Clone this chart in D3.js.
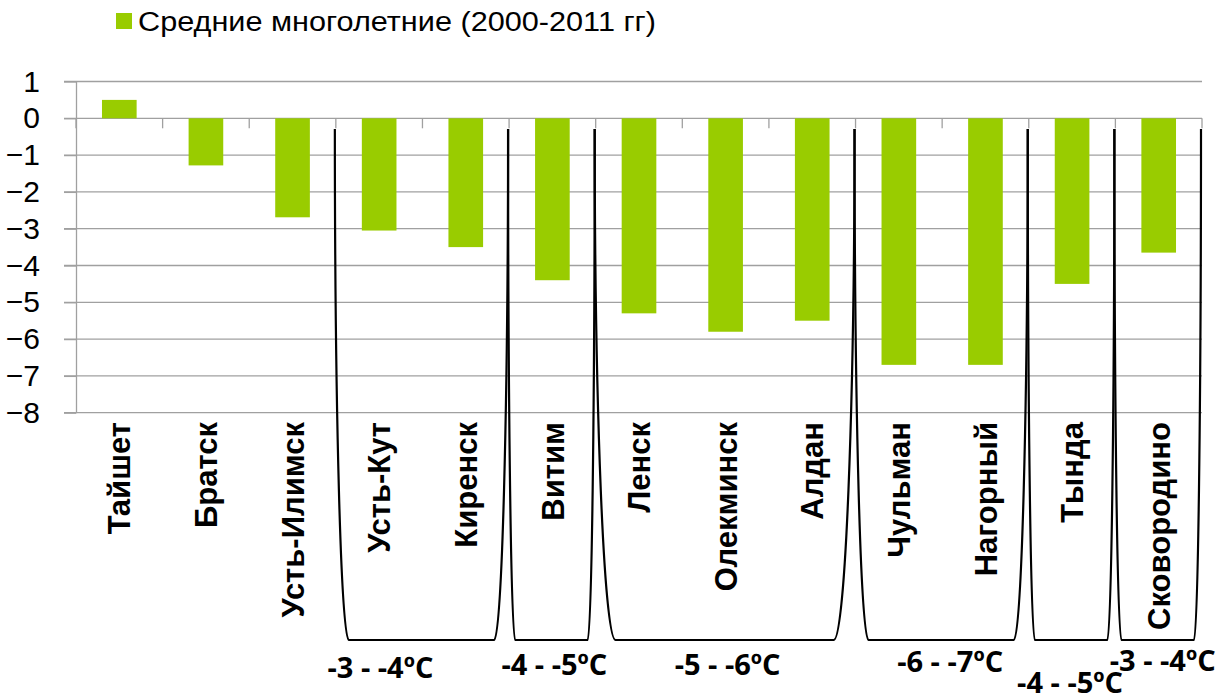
<!DOCTYPE html>
<html>
<head>
<meta charset="utf-8">
<script src="https://cdn.jsdelivr.net/npm/d3@7"></script>
<style>
  body { margin: 0; background: #fff; }
  svg { display: block; }
</style>
</head>
<body>
<div id="chart"></div>
<script>
// stations and mean long-term values (2000-2011)
var stations = ["Тайшет", "Братск", "Усть-Илимск", "Усть-Кут", "Киренск", "Витим", "Ленск",
  "Олекминск", "Алдан", "Чульман", "Нагорный", "Тында", "Сковородино"];
var values = [0.5, -1.28, -2.69, -3.05, -3.5, -4.4, -5.3, -5.8, -5.5, -6.7, -6.7, -4.5, -3.65];
var yTicks = [1, 0, -1, -2, -3, -4, -5, -6, -7, -8];
var seriesName = "Средние многолетние (2000-2011 гг)";

// temperature zones: first and last station index, label
var zoneFrom = [3, 5, 6, 9, 11, 12];
var zoneTo = [4, 5, 8, 10, 11, 12];
var zoneLabels = ["-3 - -4ºC", "-4 - -5ºC", "-5 - -6ºC", "-6 - -7ºC", "-4 - -5ºC", "-3 - -4ºC"];
// label nudges relative to zone centre (layout only)
var zoneDx = [-42, 2, 2, 8, -2, 4];
var zoneDy = [0, -3, -3, -6, 15, -7];

function drawChart(id, w, h) {
  var mLeft = 76, mRight = 1202, mTop = 81.5, mBottom = 412.7;
  var grey = "#a0a0a0";

  var svg = d3.select("#" + id).append("svg").attr("width", w).attr("height", h);

  var x = d3.scaleBand().domain(stations).range([mLeft, mRight]).paddingInner(0.6).paddingOuter(0.3);
  var y = d3.scaleLinear().domain([-8, 1]).range([mBottom, mTop]);
  var step = x.step();
  var edge = (i) => mLeft + i * step;

  // gridlines
  svg.append("g").selectAll("line")
    .data(yTicks)
    .enter()
    .append("line")
    .attr("x1", mLeft - 12).attr("x2", mRight)
    .attr("y1", (d) => y(d)).attr("y2", (d) => y(d))
    .attr("stroke", grey).attr("stroke-width", 1.3);

  // y axis
  var yAxis = svg.append("g")
    .attr("transform", "translate(" + mLeft + ",0)")
    .call(d3.axisLeft(y).tickValues(yTicks).tickSizeInner(12).tickSizeOuter(0).tickPadding(24));
  yAxis.select(".domain").attr("stroke", grey).attr("stroke-width", 1.3);
  yAxis.selectAll(".tick line").attr("stroke", grey).attr("stroke-width", 1.3);
  yAxis.selectAll(".tick text")
    .attr("font-family", "Liberation Sans, Arial, sans-serif")
    .attr("font-size", 30).attr("fill", "#000");

  // category ticks on the zero line
  svg.append("g").selectAll("line")
    .data(d3.range(stations.length + 1))
    .enter()
    .append("line")
    .attr("x1", (d) => edge(d)).attr("x2", (d) => edge(d))
    .attr("y1", y(0)).attr("y2", y(0) + 10)
    .attr("stroke", grey).attr("stroke-width", 1.3);

  // bars
  svg.append("g").selectAll("rect")
    .data(values)
    .enter()
    .append("rect")
    .attr("x", (d, i) => x(stations[i]))
    .attr("y", (d) => y(Math.max(0, d)))
    .attr("width", x.bandwidth())
    .attr("height", (d) => Math.abs(y(d) - y(0)))
    .attr("fill", "#99cc00");

  // category labels
  svg.append("g").selectAll("text")
    .data(stations)
    .enter()
    .append("text")
    .text((d) => d)
    .attr("transform", (d) => "translate(" + (x(d) + x.bandwidth() / 2) + ",422) rotate(-90)")
    .attr("dy", "0.36em")
    .attr("text-anchor", "end")
    .attr("font-family", "Liberation Sans, Arial, sans-serif")
    .attr("font-weight", "bold")
    .attr("font-size", 31)
    .attr("fill", "#000");

  // zone brackets
  var bTop = 129, bBot = 640;
  function bracket(i) {
    var x0 = edge(zoneFrom[i]) - 1, x1 = edge(zoneTo[i] + 1) - 1;
    var rx = (x1 - x0) * 0.08, ry = bBot - bTop;
    return "M" + x0 + "," + bTop +
      " A" + rx + "," + ry + " 0 0 0 " + (x0 + rx) + "," + bBot +
      " L" + (x1 - rx) + "," + bBot +
      " A" + rx + "," + ry + " 0 0 0 " + x1 + "," + bTop;
  }
  svg.append("g").selectAll("path")
    .data(zoneLabels)
    .enter()
    .append("path")
    .attr("d", (d, i) => bracket(i))
    .attr("fill", "none")
    .attr("stroke", "#000")
    .attr("stroke-width", 2.2);

  svg.append("g").selectAll("text")
    .data(zoneLabels)
    .enter()
    .append("text")
    .text((d) => d)
    .attr("x", (d, i) => (edge(zoneFrom[i]) + edge(zoneTo[i] + 1)) / 2 + zoneDx[i])
    .attr("y", (d, i) => 668 + zoneDy[i])
    .attr("dy", "0.35em")
    .attr("text-anchor", "middle")
    .attr("font-family", "Open Sans, sans-serif")
    .attr("font-weight", "bold")
    .attr("font-size", 29)
    .attr("fill", "#000");

  // legend
  var legend = svg.append("g");
  legend.append("rect").attr("x", 116).attr("y", 13).attr("width", 16).attr("height", 16).attr("fill", "#99cc00");
  legend.append("text")
    .text(seriesName)
    .attr("x", 138).attr("y", 22)
    .attr("dy", "0.35em")
    .attr("textLength", 518)
    .attr("lengthAdjust", "spacingAndGlyphs")
    .attr("font-family", "Liberation Sans, Arial, sans-serif")
    .attr("font-size", 27)
    .attr("fill", "#000");

  return svg;
}

drawChart("chart", 1230, 695);
</script>
</body>
</html>
